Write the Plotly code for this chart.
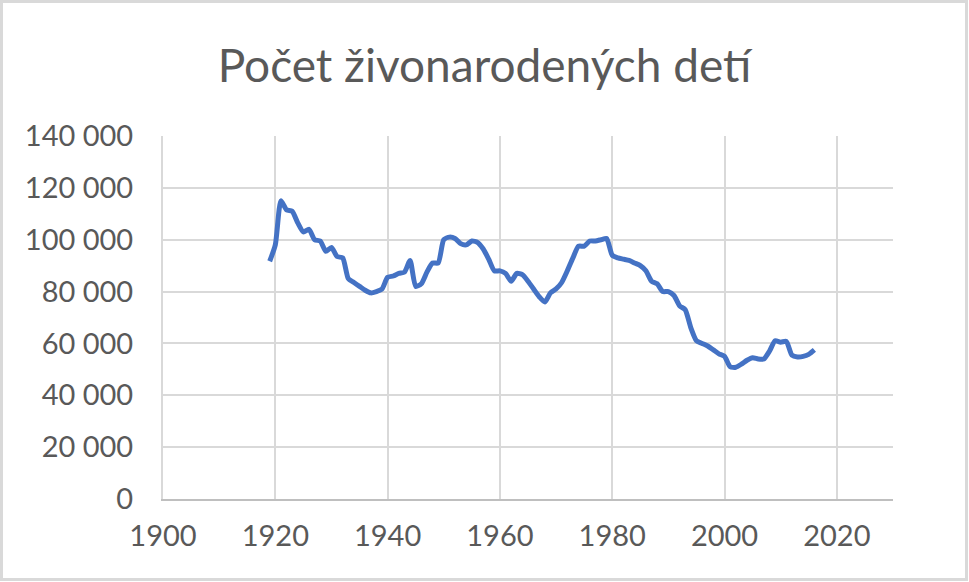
import plotly.graph_objects as go

# rok a počet živonarodených detí (odčítané z grafu)
YEARS = list(range(1919, 2017))
BIRTHS = [
    91700, 98000, 115000, 111500, 111000, 106500, 103000, 104000, 100000, 99500,
    95500, 97000, 93500, 93000, 85000, 83500, 82000, 80500, 79500, 80000,
    81000, 85500, 86000, 87000, 87500, 92000, 82000, 83000, 87500, 91000,
    91000, 100000, 101000, 100500, 98500, 98000, 99500, 99000, 96500, 92500,
    88000, 88000, 87000, 84000, 87000, 86500, 84000, 81000, 78000, 76000,
    79500, 81000, 83500, 88000, 93000, 97500, 97500, 99500, 99500, 100000,
    100500, 94000, 93000, 92500, 92000, 91000, 90000, 88000, 84000, 83000,
    80000, 80000, 78500, 74500, 73000, 66000, 61000, 60000, 59000, 57500,
    56000, 55000, 51000, 50800, 52000, 53500, 54500, 54000, 54000, 57000,
    61000, 60500, 60800, 55500, 54800, 55000, 55800, 57500,
]

TITLE = "Počet živonarodených detí"
TEXT = "#595959"
GRID = "#D9D9D9"
FONT = "Lato"

W, H = 969, 582
L, R, T, B = 163, 76, 136, 83

fig = go.Figure()
fig.add_trace(go.Scatter(x=YEARS, y=BIRTHS, mode="lines",
                         line=dict(color="#4472C4", width=5, shape="spline", smoothing=0.6),
                         showlegend=False))

fig.update_layout(
    width=W, height=H,
    margin=dict(l=L, r=R, t=T, b=B, autoexpand=False),
    paper_bgcolor="white", plot_bgcolor="white",
    separators=", ",
    title=dict(text=TITLE, x=0.5, xanchor="center", y=1 - 66 / H, yanchor="middle",
               font=dict(family=FONT, size=46, color=TEXT)),
    font=dict(family=FONT, color=TEXT, size=29),
)

fig.update_xaxes(range=[1900, 2030], tick0=1900, dtick=20, showgrid=True, gridcolor=GRID,
                 gridwidth=2, zeroline=False, showline=True, linecolor="#BFBFBF", linewidth=2,
                 ticks="outside", ticklen=10, tickcolor="rgba(0,0,0,0)", automargin=False,
                 tickfont=dict(family=FONT, size=29, color=TEXT))
fig.update_yaxes(range=[0, 140000], dtick=20000, tickformat=",d", showgrid=True, gridcolor=GRID,
                 gridwidth=2, zeroline=False, showline=True, linecolor=GRID, linewidth=2,
                 ticks="outside", ticklen=22, tickcolor="rgba(0,0,0,0)", automargin=False,
                 tickfont=dict(family=FONT, size=29, color=TEXT))

# rámik okolo celého grafu
pw, ph = W - L - R, H - T - B
fig.add_shape(type="rect", xref="paper", yref="paper",
              x0=(1.5 - L) / pw, x1=(W - 2.5 - L) / pw,
              y0=-(B - 2.5) / ph, y1=1 + (T - 1.5) / ph,
              line=dict(color=GRID, width=3), layer="below")

fig.write_html("out.html", config={"displayModeBar": False},
               post_script="document.body.style.margin='0';")
